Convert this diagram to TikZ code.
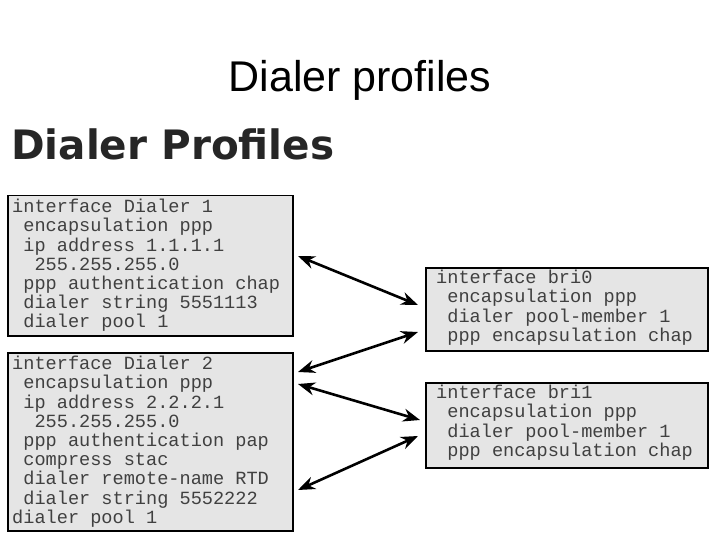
\documentclass[tikz,border=0pt]{standalone}
\usepackage{fontspec}
\setmainfont{Liberation Sans}
\setmonofont{Liberation Mono}
\newfontfamily\headfont{DejaVu Sans}
\usetikzlibrary{arrows.meta}
\newcommand{\ind}{\phantom{x}}
\begin{document}
\begin{tikzpicture}[x=1pt,y=-1pt,
  cfg/.style={draw=black,line width=1.5pt,fill=black!10,anchor=north west,inner sep=0pt},
  code/.style={anchor=north west,inner sep=0pt,align=left,text=black!75,font=\ttfamily\fontsize{18.6}{19.2}\selectfont},
  link/.style={line width=2.6pt,{Stealth[length=17pt,width=13pt]}-{Stealth[length=17pt,width=13pt]}}]
\useasboundingbox (0,0) rectangle (720,540);
\node[font=\fontsize{43}{48}\selectfont,anchor=base] (title) at (360,92) {Dialer profiles};
\node[font=\headfont\bfseries\fontsize{40.5}{44}\selectfont,text=black!85,anchor=base west,inner sep=0pt] (head) at (11,160) {Dialer Profiles};
\node[cfg,minimum width=285,minimum height=140] (d1) at (7,195) {};
\node[cfg,minimum width=285,minimum height=178] (d2) at (7,352) {};
\node[cfg,minimum width=282,minimum height=83] (b0) at (425,267) {};
\node[cfg,minimum width=282,minimum height=85] (b1) at (425,382) {};
\node[code] (t1) at (12,199) {interface Dialer 1\\\ind encapsulation ppp\\\ind ip address 1.1.1.1\\\ind\ind 255.255.255.0\\\ind ppp authentication chap\\\ind dialer string 5551113\\\ind dialer pool 1};
\node[code] (t2) at (12,356) {interface Dialer 2\\\ind encapsulation ppp\\\ind ip address 2.2.2.1\\\ind\ind 255.255.255.0\\\ind ppp authentication pap\\\ind compress stac\\\ind dialer remote-name RTD\\\ind dialer string 5552222\\dialer pool 1};
\node[code] (t3) at (436,270) {interface bri0\\\ind encapsulation ppp\\\ind dialer pool-member 1\\\ind ppp encapsulation chap};
\node[code] (t4) at (436,385) {interface bri1\\\ind encapsulation ppp\\\ind dialer pool-member 1\\\ind ppp encapsulation chap};
\coordinate (a1) at (298,256); \coordinate (a2) at (418,305);
\coordinate (a3) at (418,332); \coordinate (a4) at (298,372);
\coordinate (a5) at (298,384); \coordinate (a6) at (420,420);
\coordinate (a7) at (418,436); \coordinate (a8) at (298,490);
\draw[link] (a1) -- (a2);
\draw[link] (a3) -- (a4);
\draw[link] (a5) -- (a6);
\draw[link] (a7) -- (a8);
\end{tikzpicture}
\end{document}
